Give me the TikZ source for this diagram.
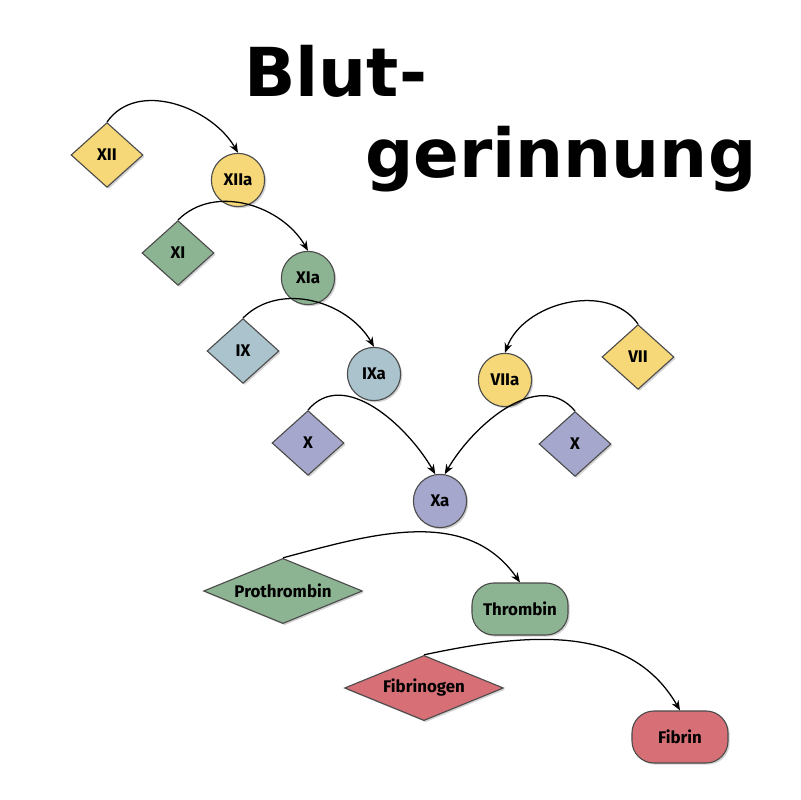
\documentclass[tikz,border=0pt]{standalone}
\usepackage{fontspec}
\setmainfont{Fira Sans}
\newfontfamily\titlefont{DejaVu Sans}
\usetikzlibrary{shapes.geometric,arrows.meta,shadows}
\definecolor{yellowF}{HTML}{F6D878}
\definecolor{greenF}{HTML}{8DB492}
\definecolor{blueF}{HTML}{AAC3CD}
\definecolor{violetF}{HTML}{A5A8CC}
\definecolor{redF}{HTML}{D67076}

\begin{document}
\begin{tikzpicture}[x=0.025cm, y=0.025cm,
  factor/.style={diamond, draw=black!70, line width=0.8pt, inner sep=0pt,
    minimum width=1.8cm, minimum height=1.62cm, font=\bfseries\fontsize{12}{12}\selectfont,
    drop shadow={shadow xshift=1.2pt, shadow yshift=-1.2pt, opacity=0.35}},
  wide/.style={factor, aspect=2.4, minimum width=3.97cm, minimum height=1.63cm},
  active/.style={circle, draw=black!70, line width=0.8pt, inner sep=0pt,
    minimum size=1.33cm, font=\bfseries\fontsize{12}{12}\selectfont,
    drop shadow={shadow xshift=1.2pt, shadow yshift=-1.2pt, opacity=0.35}},
  product/.style={rectangle, rounded corners=0.55cm, draw=black!70, line width=0.8pt,
    minimum width=2.4cm, minimum height=1.3cm, font=\bfseries\fontsize{12}{12}\selectfont,
    drop shadow={shadow xshift=1.2pt, shadow yshift=-1.2pt, opacity=0.35}},
  conv/.style={-{Stealth[length=7pt,width=5.5pt]}, line width=0.9pt}
]
\useasboundingbox (0,0) rectangle (800,800);

\node[anchor=base west, inner sep=0pt, font=\titlefont\bfseries\fontsize{48}{48}\selectfont] (title1) at (244,703) {Blut-};
\node[anchor=base west, inner sep=0pt, font=\titlefont\bfseries\fontsize{48}{48}\selectfont] (title2) at (365,622) {gerinnung};

\node[factor, fill=yellowF] (xii) at (107,645) {XII};
\node[active, fill=yellowF] (xiia) at (238,620) {XIIa};
\node[factor, fill=greenF] (xi) at (178,547) {XI};
\node[active, fill=greenF] (xia) at (308,522) {XIa};
\node[factor, fill=blueF] (ix) at (243,449) {IX};
\node[active, fill=blueF] (ixa) at (374,426) {IXa};
\node[factor, fill=violetF] (xl) at (308,357) {X};
\node[active, fill=violetF] (xa) at (440,299) {Xa};
\node[active, fill=yellowF] (viia) at (505,420) {VIIa};
\node[factor, fill=yellowF] (vii) at (638,443) {VII};
\node[factor, fill=violetF] (xr) at (575,356) {X};

\node[wide, fill=greenF] (proth) at (283,209) {Prothrombin};
\node[product, fill=greenF] (thromb) at (520,191) {Thrombin};
\node[wide, fill=redF] (fibgen) at (424,112) {Fibrinogen};
\node[product, fill=redF] (fibrin) at (680,63) {Fibrin};

\draw[conv] (xii.north) to[out=55, in=120] (xiia.north);
\draw[conv] (xi.north) to[out=45, in=120] (xia.north);
\draw[conv] (ix.north) to[out=45, in=120] (ixa.north);
\draw[conv] (xl.north) to[out=50, in=120] (xa.100);
\draw[conv] (xr.north) to[out=130, in=60] (xa.80);
\draw[conv] (vii.north) to[out=125, in=70] (viia.north);
\draw[conv] (proth.north) to[out=15, in=125] (thromb.north);
\draw[conv] (fibgen.north) to[out=12, in=120] (fibrin.north);
\end{tikzpicture}
\end{document}
